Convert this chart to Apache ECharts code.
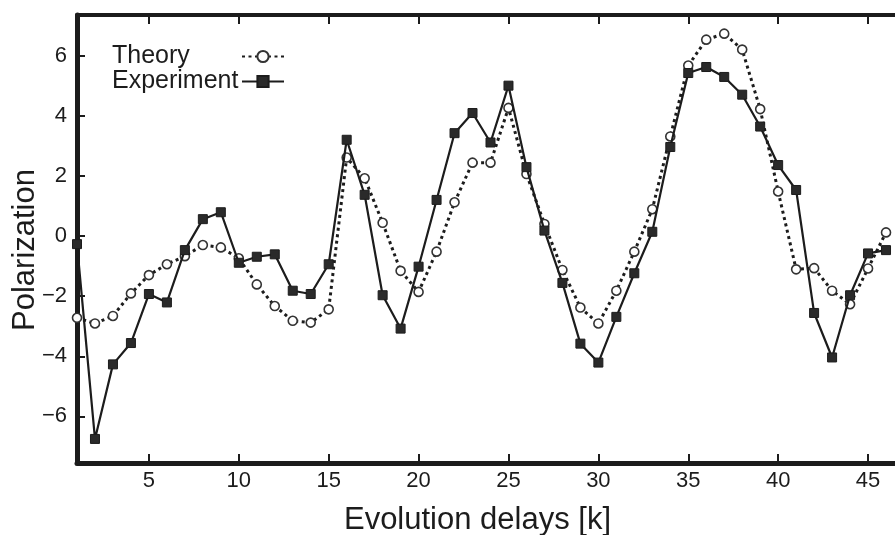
<!DOCTYPE html>
<html>
<head>
<meta charset="utf-8">
<script src="https://cdn.jsdelivr.net/npm/echarts@6/dist/echarts.min.js"></script>
<style>html,body{margin:0;padding:0;background:#fff}#c{width:895px;height:535px}</style>
</head>
<body>
<div id="c"></div>
<script>
const delays = [1,2,3,4,5,6,7,8,9,10,11,12,13,14,15,16,17,18,19,20,21,22,23,24,25,26,27,28,29,30,31,32,33,34,35,36,37,38,39,40,41,42,43,44,45,46];
const theory = [-2.72,-2.91,-2.66,-1.91,-1.30,-0.94,-0.67,-0.30,-0.38,-0.74,-1.61,-2.33,-2.82,-2.88,-2.44,2.61,1.92,0.44,-1.16,-1.86,-0.52,1.12,2.44,2.44,4.26,2.06,0.40,-1.13,-2.38,-2.91,-1.82,-0.52,0.89,3.31,5.67,6.53,6.73,6.20,4.22,1.48,-1.11,-1.07,-1.82,-2.27,-1.08,0.12];
const experiment = [-0.27,-6.75,-4.27,-3.56,-1.93,-2.21,-0.47,0.56,0.79,-0.89,-0.69,-0.61,-1.82,-1.93,-0.94,3.20,1.37,-1.97,-3.08,-1.02,1.20,3.42,4.09,3.11,5.00,2.29,0.18,-1.56,-3.58,-4.21,-2.69,-1.24,0.14,2.96,5.42,5.62,5.29,4.70,3.64,2.36,1.53,-2.56,-4.04,-1.97,-0.58,-0.47];
const xTicks = [5,10,15,20,25,30,35,40,45];
const yTicks = [-6,-4,-2,0,2,4,6];

const ink = '#1c1c1c';
const font = 'Liberation Sans, Arial, sans-serif';
const chart = echarts.init(document.getElementById('c'), null, {renderer:'canvas'});
const pairs = (ys) => delays.map((d,i) => [d, ys[i]]);

chart.setOption({
  animation: false,
  backgroundColor: '#fff',
  grid: {left: 77, right: -9, top: 15, bottom: 72, containLabel: false, outerBoundsMode: 'none'},
  legend: {
    left: 112, top: 44, orient: 'vertical', align: 'right', padding: 0,
    itemWidth: 42, itemHeight: 14, itemGap: 0,
    formatter: name => '{a|' + name + '}',
    textStyle: {fontFamily: font, fontSize: 25, color: ink, lineHeight: 24,
      rich: {a: {width: 125, align: 'left', fontFamily: font, fontSize: 25, color: ink, lineHeight: 24}}},
    data: ['Theory', 'Experiment']
  },
  xAxis: [{
    type: 'value', min: 1, max: 47,
    name: 'Evolution delays [k]', nameLocation: 'middle', nameGap: 42, nameMoveOverlap: false,
    nameTextStyle: {fontFamily: font, fontSize: 31, color: ink, padding: [0, 26, 0, 0]},
    axisLine: {show: true, onZero: false, lineStyle: {color: ink, width: 5}},
    axisTick: {show: true, inside: true, length: 9, lineStyle: {color: ink, width: 2}, customValues: xTicks},
    axisLabel: {show: true, fontFamily: font, fontSize: 22, color: ink, margin: 7, customValues: xTicks},
    splitLine: {show: false}
  }, {
    type: 'value', min: 1, max: 47, position: 'top',
    axisLine: {show: true, onZero: false, lineStyle: {color: ink, width: 4}},
    axisTick: {show: true, inside: true, length: 9, lineStyle: {color: ink, width: 2}, customValues: xTicks},
    axisLabel: {show: false},
    splitLine: {show: false}
  }],
  yAxis: {
    type: 'value', min: -7.55, max: 7.35,
    name: 'Polarization', nameLocation: 'middle', nameGap: 36, nameRotate: 90, nameMoveOverlap: false,
    nameTextStyle: {fontFamily: font, fontSize: 31, color: ink, padding: [0, 22, 0, 0]},
    axisLine: {show: true, onZero: false, lineStyle: {color: ink, width: 5}},
    axisTick: {show: true, inside: true, length: 8, lineStyle: {color: ink, width: 2}, customValues: yTicks},
    axisLabel: {show: true, fontFamily: font, fontSize: 22, color: ink, margin: 10, customValues: yTicks,
      formatter: v => String(v).replace('-', '\u2212')},
    splitLine: {show: false}
  },
  series: [{
    name: 'Theory', type: 'line', xAxisIndex: 0, data: pairs(theory),
    symbol: 'circle', symbolSize: 9, showAllSymbol: true,
    lineStyle: {color: ink, width: 3, type: [3, 3.5]},
    itemStyle: {color: '#fff', borderColor: '#333', borderWidth: 1.6},
    z: 3
  }, {
    name: 'Experiment', type: 'line', xAxisIndex: 0, data: pairs(experiment),
    symbol: 'rect', symbolSize: 9, showAllSymbol: true,
    lineStyle: {color: ink, width: 2.2},
    itemStyle: {color: '#2a2a2a', borderColor: ink, borderWidth: 1},
    z: 4
  }]
});
</script>
</body>
</html>
